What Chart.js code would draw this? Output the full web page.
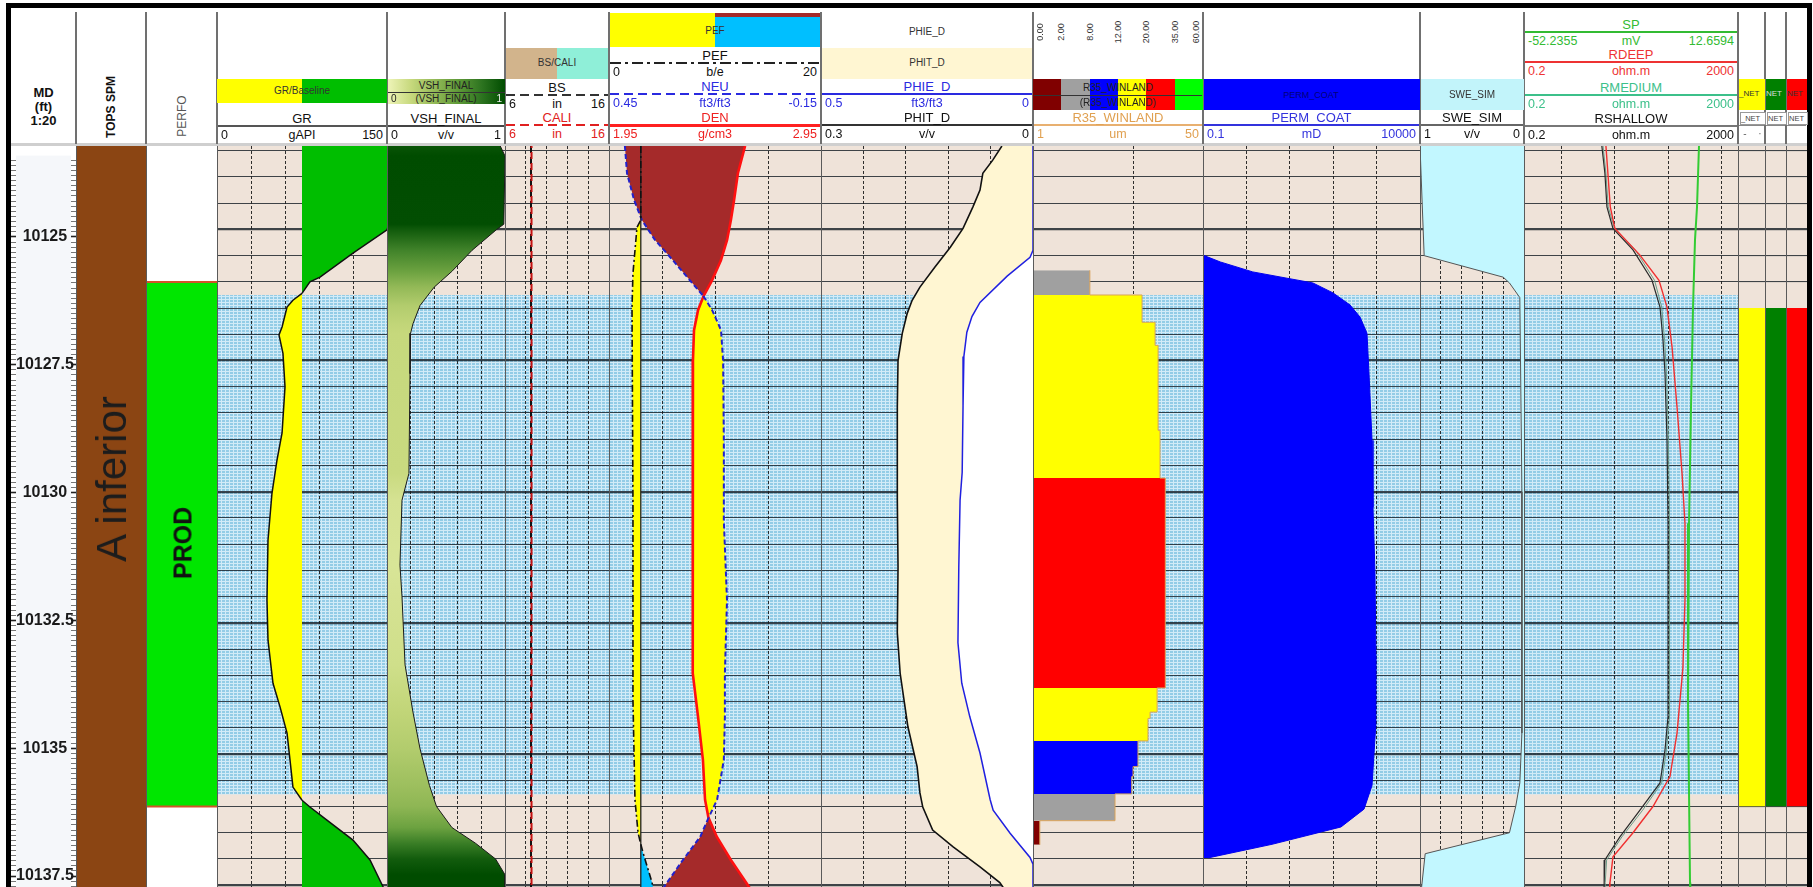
<!DOCTYPE html>
<html>
<head>
<meta charset="utf-8">
<title>Well log - A inferior</title>
<script src="https://cdn.jsdelivr.net/npm/chart.js@4.4.1/dist/chart.umd.min.js"></script>
<style>
  html, body { margin: 0; padding: 0; background: #fff; overflow: hidden; }
  body { position: relative; width: 1813px; height: 887px; font-family: 'Liberation Sans', Arial, sans-serif; }
  canvas { position: absolute; z-index: 1; }
  .b { position: absolute; z-index: 2; }
  .t { position: absolute; z-index: 3; white-space: nowrap; line-height: 1; color: #111; font-size: 12px; }
</style>
</head>
<body>
<script>
// ---------- depth window (ft MD) ----------
const DEPTH_TOP = 10123.41;
const DEPTH_BASE = 10137.82;
const gridDepths = [10123.5, 10124, 10124.5, 10125, 10125.5, 10126, 10126.5, 10127, 10127.5, 10128, 10128.5,
  10129, 10129.5, 10130, 10130.5, 10131, 10131.5, 10132, 10132.5, 10133, 10133.5, 10134, 10134.5, 10135,
  10135.5, 10136, 10136.5, 10137, 10137.5];
const mdLabels = [10125, 10127.5, 10130, 10132.5, 10135, 10137.5];

// ---------- intervals ----------
const zoneTop = 10126.25, zoneBase = 10135.77;
const topsName = ['A inferior'], topsTop = [10100], topsBase = [10160];
const perfoName = ['PROD'], perfoTop = [10126.0], perfoBase = [10136.0];
const netName = ['_NET', 'NET', 'NET'];
const netTop = [10126.5, 10126.5, 10126.5];
const netBase = [10136.0, 10136.0, 10136.0];
const netColor = ['#FFFF00', '#008000', '#FF0000'];

// ---------- curves ----------
const GR_BASELINE = 75;
const grDepth = [10123.41, 10124.6, 10125.01, 10125.45, 10125.91, 10126.0, 10126.22, 10126.35, 10126.48, 10126.86,
  10127.01, 10127.36, 10128.0, 10128.88, 10129.4, 10130.03, 10130.92, 10132.07, 10132.83, 10133.65, 10134.1,
  10134.6, 10135.11, 10135.63, 10135.88, 10136.01, 10136.26, 10136.64, 10137.02, 10137.53, 10137.82];
const grValue = [158, 156, 150, 120, 90.9, 82, 75, 67, 61.8, 57.4, 54.7, 58.2, 60, 57.4, 52.9, 48.5, 45, 44.1, 45,
  49.4, 55.6, 61.8, 64.4, 67, 75, 82, 97, 120, 135, 146.5, 152];

const vshDepth = [10123.41, 10123.6, 10124.9, 10125.0, 10125.4, 10125.8, 10126.1, 10126.45, 10126.8, 10126.98,
  10127.75, 10129.65, 10130.16, 10131.4, 10132.0, 10133.3, 10134.2, 10134.9, 10135.6, 10136.0, 10136.4, 10136.7,
  10137.0, 10137.3, 10137.82];
const vshValue = [0.96, 1.0, 0.99, 0.93, 0.72, 0.55, 0.40, 0.28, 0.22, 0.20, 0.195, 0.186, 0.127, 0.11, 0.127,
  0.153, 0.22, 0.28, 0.36, 0.42, 0.55, 0.75, 0.92, 1.0, 1.0];

const bsDepth = [10123.41, 10137.82], bsValue = [8.5, 8.5];
const caliDepth = [10123.41, 10137.82], caliValue = [8.55, 8.55];

const PEF_CUTOFF = 3;
const pefDepth = [10123.41, 10124.82, 10124.96, 10125.84, 10126.49, 10130.16, 10133.97, 10135.87, 10136.5,
  10136.72, 10136.88, 10137.45, 10137.82];
const pefValue = [3.0, 3.0, 2.64, 2.26, 2.17, 2.26, 2.26, 2.45, 2.74, 3.0, 3.21, 4.06, 4.4];

const ndDepth = [10123.41, 10123.93, 10124.44, 10124.82, 10125.2, 10125.59, 10125.97, 10126.27, 10126.54, 10126.92,
  10127.5, 10129.02, 10130.55, 10132.07, 10133.46, 10134.29, 10135.11, 10135.87, 10136.21, 10136.58, 10137.02,
  10137.53, 10137.82];
const neuValue = [0.405, 0.399, 0.379, 0.357, 0.320, 0.269, 0.221, 0.183, 0.158, 0.133, 0.127, 0.125, 0.125, 0.116,
  0.122, 0.122, 0.125, 0.144, 0.168, 0.192, 0.241, 0.294, 0.32];
const denValue = [2.592, 2.558, 2.540, 2.525, 2.507, 2.478, 2.436, 2.396, 2.370, 2.351, 2.346, 2.346, 2.346, 2.342,
  2.346, 2.370, 2.393, 2.403, 2.419, 2.459, 2.525, 2.610, 2.65];

const phitDepth = [10123.41, 10123.68, 10123.93, 10124.25, 10124.57, 10124.98, 10125.34, 10125.72, 10126.1,
  10126.35, 10126.6, 10126.98, 10127.5, 10128.39, 10130.16, 10131.44, 10132.69, 10133.46, 10134.48, 10135.24,
  10135.74, 10136.01, 10136.45, 10136.77, 10137.15, 10137.45, 10137.82];
const phitValue = [0.044, 0.057, 0.071, 0.075, 0.085, 0.099, 0.117, 0.139, 0.160, 0.171, 0.178, 0.185, 0.191,
  0.192, 0.192, 0.191, 0.192, 0.188, 0.177, 0.164, 0.160, 0.156, 0.142, 0.113, 0.075, 0.047, 0.028];
const phieDepth = [10123.41, 10125.4, 10125.53, 10125.89, 10126.39, 10126.66, 10126.96, 10127.42, 10128.37,
  10129.63, 10130.16, 10131.44, 10132.88, 10133.65, 10134.29, 10134.98, 10135.87, 10136.07, 10136.51, 10136.97,
  10137.1, 10137.82];
const phieValue = [0, 0, 0.007, 0.061, 0.125, 0.144, 0.156, 0.163, 0.165, 0.167, 0.172, 0.175, 0.177, 0.168,
  0.149, 0.125, 0.101, 0.094, 0.054, 0.007, 0, 0];

// R35 Winland pore throat radius, blocky rock-type steps
const r35Top = [10125.78, 10126.25, 10126.77, 10127.21, 10128.83, 10129.74, 10133.74, 10134.20, 10134.32,
  10134.75, 10135.24, 10135.43, 10135.76, 10136.27];
const r35Base = [10126.25, 10126.77, 10127.21, 10128.83, 10129.74, 10133.74, 10134.20, 10134.32, 10134.75,
  10135.24, 10135.43, 10135.76, 10136.27, 10136.73];
const r35Value = [3.7, 12.3, 16.6, 17.8, 18.6, 21.0, 17.4, 14.8, 14.1, 11.2, 10.0, 9.7, 6.6, 1.17];
const r35Class = ['0.00', '2.00', '8.00', '12.00', '20.00', '35.00', '60.00'];
const r35Colors = ['#800000', '#A0A0A0', '#0000FF', '#FFFF00', '#FF0000', '#00FF00'];

const permDepth = [10125.49, 10125.62, 10125.81, 10125.93, 10126.02, 10126.21, 10126.44, 10126.67, 10126.98,
  10127.74, 10129.02, 10130.3, 10131.55, 10133.15, 10134.5, 10135.6, 10136.05, 10136.39, 10136.72, 10136.98];
const permValue = [0.1, 0.25, 1.4, 8.6, 34, 99, 244, 415, 601, 668, 784, 826, 918, 968, 950, 784, 513, 151, 3.9, 0.13];

const sweDepth = [10123.41, 10125.5, 10125.91, 10126.02, 10126.3, 10130.0, 10134.6, 10135.55, 10136.0, 10136.5,
  10136.9, 10137.82];
const sweValue = [1.0, 0.96, 0.20, 0.14, 0.04, 0.02, 0.02, 0.04, 0.08, 0.14, 0.95, 1.0];

const rdeepDepth = [10123.41, 10123.93, 10124.57, 10124.98, 10125.49, 10125.97, 10126.48, 10127.24, 10128.39,
  10129.65, 10130.6, 10132.07, 10133.35, 10134.6, 10135.43, 10136.0, 10136.5, 10136.96, 10137.45, 10137.82];
const rdeepValue = [6.8, 7.4, 8.2, 10.0, 29.4, 66.7, 94.2, 117, 145, 180, 204, 204, 187, 145, 107, 51.5, 21.8,
  9.2, 8.1, 8.0];
const rshalDepth = [10123.41, 10123.93, 10124.57, 10124.98, 10125.39, 10125.97, 10126.48, 10127.11, 10127.74,
  10129.02, 10130.6, 10132.07, 10134.29, 10134.92, 10135.55, 10136.07, 10136.58, 10137.02, 10137.45, 10137.82];
const rshalValue = [5.7, 6.5, 7.1, 9.2, 21.8, 49.4, 69.7, 79.3, 86.4, 94.2, 98.4, 98.4, 98.4, 86.4, 69.7, 29.4,
  12.4, 6.5, 6.3, 6.2];
const rmedValue = [6.0, 6.8, 7.5, 9.8, 24.0, 55.0, 75.0, 85.0, 92.0, 100, 105, 106, 104, 92, 75, 33, 13.5, 7.0,
  6.6, 6.5];
const spDepth = [10123.41, 10124.57, 10125.2, 10126.48, 10128.39, 10130.6, 10134.0, 10137.45, 10137.82];
const spValue = [0.83, 0.23, -0.38, -0.98, -1.59, -2.2, -2.5, -1.89, -1.8];

// ---------- layout ----------
const T = {
  md: [11, 76], tops: [76, 146], perfo: [146, 217], gr: [217, 387], vsh: [387, 505],
  cal: [505, 609], pef: [609, 821], phi: [821, 1033], r35: [1033, 1203], perm: [1203, 1420],
  swe: [1420, 1524], res: [1524, 1738], net1: [1738, 1765], net2: [1765, 1786], net3: [1786, 1807]
};
const PLOT_TOP = 146, PLOT_H = 756;
const BEIGE = '#EFE3D9';
const GR_SAND = '#FFFF00', GR_SHALE = '#00BE00';
const ND_SHALE = '#A52A2A', ND_CROSS = '#FFFF00';
const vshRamp = [[0, [238, 244, 184]], [0.2, [198, 216, 124]], [0.4, [147, 185, 87]], [0.6, [95, 154, 56]],
  [0.8, [45, 116, 32]], [1, [0, 76, 0]]];

Chart.defaults.font.family = "'Liberation Sans', Arial, sans-serif";

function pts(depths, values) { return depths.map((d, i) => ({x: values[i], y: d})); }

function vshColor(v) {
  v = Math.max(0, Math.min(1, v));
  for (let i = 1; i < vshRamp.length; i++) {
    const [p1, c1] = vshRamp[i], [p0, c0] = vshRamp[i - 1];
    if (v <= p1) {
      const f = (v - p0) / (p1 - p0);
      return 'rgb(' + c0.map((c, k) => Math.round(c + (c1[k] - c) * f)).join(',') + ')';
    }
  }
  return 'rgb(0,76,0)';
}

function vshGradient(context) {
  const chart = context.chart;
  const area = chart.chartArea;
  if (!area) return vshColor(0.2);
  const y = chart.scales.y;
  const g = chart.ctx.createLinearGradient(0, area.top, 0, area.bottom);
  vshDepth.forEach((d, i) => {
    const p = (y.getPixelForValue(d) - area.top) / (area.bottom - area.top);
    if (p >= 0 && p <= 1) g.addColorStop(p, vshColor(vshValue[i]));
  });
  return g;
}

function r35Color(v) {
  const lims = r35Class.map(Number);
  for (let i = 1; i < lims.length; i++) if (v < lims[i]) return r35Colors[i - 1];
  return r35Colors[r35Colors.length - 1];
}

// beige background with the patterned reservoir band behind the grid
function zonePattern(ctx) {
  const tile = document.createElement('canvas');
  tile.width = 4; tile.height = 3;
  const g = tile.getContext('2d');
  g.fillStyle = '#93CCE6'; g.fillRect(0, 0, 4, 3);
  g.fillStyle = '#D2EBF7'; g.fillRect(0, 0, 4, 1); g.fillRect(0, 0, 1, 3);
  return ctx.createPattern(tile, 'repeat');
}
const backdrop = {
  id: 'backdrop',
  beforeDraw(chart, args, o) {
    const {ctx, chartArea: a} = chart;
    ctx.save();
    ctx.fillStyle = o.color || BEIGE;
    ctx.fillRect(a.left, a.top, a.width, a.height);
    if (o.zone) {
      const y = chart.scales.y;
      const y0 = y.getPixelForValue(zoneTop), y1 = y.getPixelForValue(zoneBase);
      ctx.fillStyle = zonePattern(ctx);
      ctx.fillRect(a.left, y0, a.width, y1 - y0);
    }
    ctx.restore();
  }
};

function depthAxis(grid) {
  return {
    type: 'linear', min: DEPTH_TOP, max: DEPTH_BASE, reverse: true, display: grid,
    afterBuildTicks: s => { s.ticks = gridDepths.map(v => ({value: v})); },
    ticks: {display: false},
    border: {display: false},
    grid: {drawTicks: false, color: 'rgba(18,26,34,0.8)',
      lineWidth: c => (c.tick && mdLabels.includes(c.tick.value)) ? 2.2 : 1.1}
  };
}

function valueAxis(type, min, max, grid, extra) {
  return Object.assign({
    type, axis: 'x', position: 'bottom', min, max, display: !!grid,
    afterBuildTicks: s => { s.ticks = (grid || []).map(v => ({value: v})); },
    ticks: {display: false},
    border: {display: false, dash: [3, 2]},
    grid: {drawTicks: false, color: 'rgba(25,25,25,0.9)', lineWidth: 1}
  }, extra || {});
}

function curve(xAxisID, depths, values, style) {
  return Object.assign({xAxisID, yAxisID: 'y', data: pts(depths, values), borderColor: '#111',
    borderWidth: 1.5, fill: false, pointRadius: 0}, style);
}

function block(xAxisID, top, base, value, fillTo, color, style) {
  return Object.assign({xAxisID, yAxisID: 'y', data: [{x: value, y: top}, {x: value, y: base}],
    fill: {value: fillTo}, backgroundColor: color, borderWidth: 0, pointRadius: 0}, style);
}

function makeTrack(key, scales, datasets, bg) {
  const [l, r] = T[key];
  const cv = document.createElement('canvas');
  cv.width = r - l; cv.height = PLOT_H;
  cv.style.left = l + 'px'; cv.style.top = PLOT_TOP + 'px';
  document.body.appendChild(cv);
  return new Chart(cv, {
    type: 'line',
    data: {datasets},
    options: {
      indexAxis: 'y', responsive: false, maintainAspectRatio: false, animation: false,
      devicePixelRatio: 1, events: [], layout: {padding: 0},
      elements: {point: {radius: 0}, line: {tension: 0}},
      plugins: {legend: {display: false}, tooltip: {enabled: false},
        filler: {drawTime: 'beforeDatasetsDraw'}, backdrop: bg},
      scales
    },
    plugins: [backdrop]
  });
}

// ---------- depth track ----------
(function () {
  const [l, r] = T.md;
  const cv = document.createElement('canvas');
  cv.width = r - l; cv.height = PLOT_H;
  cv.style.left = l + 'px'; cv.style.top = PLOT_TOP + 'px';
  document.body.appendChild(cv);
  const minor = [];
  for (let k = Math.ceil(DEPTH_TOP * 10); k <= Math.floor(DEPTH_BASE * 10); k++) minor.push(k / 10);
  const side = (position, labels) => ({
    type: 'linear', axis: 'y', position, min: DEPTH_TOP, max: DEPTH_BASE, reverse: true,
    afterBuildTicks: s => { s.ticks = minor.map(v => ({value: v})); },
    ticks: labels ? {mirror: true, padding: 0, autoSkip: false, crossAlign: 'center', color: '#1a1a1a',
      font: {size: 16, weight: 'bold'}, callback: v => mdLabels.includes(v) ? String(v) : ''} : {display: false},
    border: {display: false},
    grid: {drawOnChartArea: false, drawTicks: true, tickLength: 5,
      tickColor: c => (c.tick && mdLabels.includes(c.tick.value)) ? '#222' : '#777',
      tickWidth: c => (c.tick && mdLabels.includes(c.tick.value)) ? 1.6 : 1}
  });
  new Chart(cv, {
    type: 'line', data: {datasets: []},
    options: {responsive: false, animation: false, devicePixelRatio: 1, events: [], layout: {padding: 0},
      plugins: {legend: {display: false}, tooltip: {enabled: false}, backdrop: {color: '#F5F7FA'}},
      scales: {x: {display: false}, y: side('left', true), y2: side('right', false)}},
    plugins: [backdrop]
  });
})();

// ---------- zone tops & perforations ----------
makeTrack('tops', {y: depthAxis(false), x: valueAxis('linear', 0, 1, null)},
  topsName.map((n, i) => block('x', topsTop[i], topsBase[i], 1, 0, '#8B4513')), {color: '#FFFFFF'});

makeTrack('perfo', {y: depthAxis(false), x: valueAxis('linear', 0, 1, null)}, [
  {xAxisID: 'x', data: [{x: 0, y: perfoTop[0]}, {x: 1, y: perfoTop[0]}], borderColor: '#D2542A', borderWidth: 2, pointRadius: 0},
  {xAxisID: 'x', data: [{x: 0, y: perfoBase[0]}, {x: 1, y: perfoBase[0]}], borderColor: '#D2542A', borderWidth: 2, pointRadius: 0},
  block('x', perfoTop[0], perfoBase[0], 1, 0, '#00E600')
], {color: '#FFFFFF'});

// ---------- GR with baseline shading ----------
makeTrack('gr', {y: depthAxis(true), x: valueAxis('linear', 0, 150, [30, 60, 90, 120])}, [
  curve('x', grDepth, grValue, {borderColor: '#111', borderWidth: 1.5, fill: {value: GR_BASELINE},
    backgroundColor: GR_SAND,
    segment: {backgroundColor: s => (s.p0.parsed.x + s.p1.parsed.x) / 2 >= GR_BASELINE ? GR_SHALE : GR_SAND}})
], {zone: true});

// ---------- VSH coloured by value ----------
makeTrack('vsh', {y: depthAxis(true), x: valueAxis('linear', 0, 1, [0.2, 0.4, 0.6, 0.8])}, [
  curve('x', vshDepth, vshValue, {borderColor: '#1a1a1a', borderWidth: 1, fill: {value: 0}, backgroundColor: vshGradient})
], {zone: true});

// ---------- BS / CALI ----------
makeTrack('cal', {y: depthAxis(true), x: valueAxis('linear', 6, 16, [8, 10, 12, 14])}, [
  curve('x', caliDepth, caliValue, {borderColor: '#C41010', borderWidth: 2, borderDash: [7, 4], borderDashOffset: 5}),
  curve('x', bsDepth, bsValue, {borderColor: '#111', borderWidth: 2, borderDash: [7, 4]})
], {zone: true});

// ---------- PEF / NEU / DEN ----------
makeTrack('pef', {
  y: depthAxis(true),
  xNeu: valueAxis('linear', -0.15, 0.45, [0, 0.15, 0.3], {reverse: true}),
  xDen: valueAxis('linear', 1.95, 2.95, null),
  xPef: valueAxis('linear', 0, 20, null)
}, [
  curve('xPef', pefDepth, pefValue, {borderColor: '#111', borderWidth: 1.6, borderDash: [7, 3, 2, 3],
    fill: {value: PEF_CUTOFF}, backgroundColor: '#FFFF00',
    segment: {backgroundColor: s => (s.p0.parsed.x + s.p1.parsed.x) / 2 <= PEF_CUTOFF ? '#FFFF00' : '#00BFFF'}}),
  curve('xPef', [DEPTH_TOP, DEPTH_BASE], [PEF_CUTOFF, PEF_CUTOFF], {borderColor: '#222', borderWidth: 1.3}),
  curve('xNeu', ndDepth, neuValue, {borderColor: '#2222CC', borderWidth: 2, borderDash: [5, 3],
    fill: 3, backgroundColor: ND_SHALE,
    segment: {backgroundColor: s => {
      const den = s.chart.getDatasetMeta(3).data;
      const a = den[s.p0DataIndex], b = den[s.p1DataIndex];
      if (!a || !b) return ND_SHALE;
      return (s.p0.x + s.p1.x) <= (a.x + b.x) ? ND_SHALE : ND_CROSS;
    }}}),
  curve('xDen', ndDepth, denValue, {borderColor: '#FF1010', borderWidth: 2.6})
], {zone: true});

// ---------- porosity ----------
makeTrack('phi', {
  y: depthAxis(true),
  xPhie: valueAxis('linear', 0, 0.5, [0.1, 0.2, 0.3, 0.4], {reverse: true}),
  xPhit: valueAxis('linear', 0, 0.3, null, {reverse: true})
}, [
  curve('xPhie', phieDepth, phieValue, {borderColor: '#2020E0', borderWidth: 1.5, fill: {value: 0}, backgroundColor: '#FFFFFF'}),
  curve('xPhit', phitDepth, phitValue, {borderColor: '#111', borderWidth: 1.6, fill: {value: 0}, backgroundColor: '#FFF6D2'})
], {zone: true});

// ---------- R35 rock types (stepped, each step takes the value at its base) ----------
const r35Steps = [{x: r35Value[0], y: r35Top[0]}].concat(r35Value.map((v, i) => ({x: v, y: r35Base[i]})));
makeTrack('r35', {y: depthAxis(true), x: valueAxis('logarithmic', 1, 50, [10])}, [
  {xAxisID: 'x', yAxisID: 'y', data: r35Steps, stepped: true, fill: {value: 1}, pointRadius: 0,
    borderColor: '#D9A35A', borderWidth: 1, backgroundColor: r35Color(r35Value[0]),
    segment: {backgroundColor: s => r35Color(s.p1.parsed.x)}}
], {zone: true});

// ---------- permeability ----------
makeTrack('perm', {y: depthAxis(true), x: valueAxis('logarithmic', 0.1, 10000, [1, 10, 100, 1000])}, [
  curve('x', permDepth, permValue, {borderColor: '#0000F0', borderWidth: 1, fill: {value: 0.1}, backgroundColor: '#0000FF'})
], {zone: true});

// ---------- water saturation ----------
makeTrack('swe', {y: depthAxis(true), x: valueAxis('linear', 0, 1, [0.2, 0.4, 0.6, 0.8], {reverse: true})}, [
  curve('x', sweDepth, sweValue, {borderColor: '#555', borderWidth: 1, fill: {value: 0}, backgroundColor: '#C2F7FF'})
], {zone: true});

// ---------- resistivity & SP ----------
makeTrack('res', {
  y: depthAxis(true),
  x: valueAxis('logarithmic', 0.2, 2000, [1, 10, 100, 1000]),
  xSp: valueAxis('linear', -52.2355, 12.6594, null)
}, [
  curve('xSp', spDepth, spValue, {borderColor: '#33CC33', borderWidth: 2}),
  curve('x', rdeepDepth, rdeepValue, {borderColor: '#F03030', borderWidth: 1.4}),
  curve('x', rshalDepth, rshalValue, {borderColor: '#2a2a2a', borderWidth: 1.2}),
  curve('x', rshalDepth, rmedValue, {borderColor: '#6C9C88', borderWidth: 1})
], {zone: true});

// ---------- net flags ----------
['net1', 'net2', 'net3'].forEach((k, i) => {
  makeTrack(k, {y: depthAxis(true), x: valueAxis('linear', 0, 1, null)},
    [block('x', netTop[i], netBase[i], 1, 0, netColor[i])], {zone: false});
});

// ---------- header (html text) ----------
function box(x, y, w, h, css) {
  const d = document.createElement('div');
  d.className = 'b';
  Object.assign(d.style, {left: x + 'px', top: y + 'px', width: w + 'px', height: h + 'px'}, css || {});
  document.body.appendChild(d);
  return d;
}
function label(x, y, text, css, anchor) {
  const d = document.createElement('div');
  d.className = 't';
  d.textContent = text;
  Object.assign(d.style, {left: x + 'px', top: y + 'px'}, css || {});
  const tx = anchor === 'l' ? '0' : anchor === 'r' ? '-100%' : '-50%';
  d.style.transform = 'translate(' + tx + ',-50%)' + (css && css.rot ? ' rotate(-90deg)' : '');
  document.body.appendChild(d);
  return d;
}
const solid = (c, w) => ({background: c, height: (w || 2) + 'px'});
const dashed = c => ({background: 'repeating-linear-gradient(90deg,' + c + ' 0 9px,transparent 9px 14px)'});
const dashdot = c => ({background: 'repeating-linear-gradient(90deg,' + c + ' 0 11px,transparent 11px 15px,' +
  c + ' 15px 18px,transparent 18px 22px)'});

function curveHeader(key, lineY, name, lo, unit, hi, color, lineCss) {
  const [l, r] = T[key];
  const cx = (l + r) / 2;
  label(cx, lineY - 8, name, {color, fontSize: '13px'});
  box(l + 1, lineY - 1, r - l - 2, 2, lineCss);
  label(l + 4, lineY + 9, lo, {color, fontSize: '12.5px'}, 'l');
  label(cx, lineY + 9, unit, {color, fontSize: '12.5px'});
  label(r - 4, lineY + 9, hi, {color, fontSize: '12.5px'}, 'r');
}

// frame
box(6, 3, 1806, 5, {background: '#000'});
box(6, 3, 5, 884, {background: '#000'});
box(1807, 3, 5, 884, {background: '#000'});
box(11, 143, 1796, 3, {background: '#CFCFCF'});
// track dividers
[76, 146, 217, 387, 505, 609, 821, 1033, 1203, 1420, 1524, 1738, 1765, 1786].forEach(x => {
  box(x - 1, 12, 2, 132, {background: '#707070'});
  box(x, 146, 1, 741, {background: '#5a5a5a'});
});

// depth / tops / perfo titles
label(43.5, 92, 'MD', {fontSize: '13px', fontWeight: 'bold'});
label(43.5, 106, '(ft)', {fontSize: '13px', fontWeight: 'bold'});
label(43.5, 120, '1:20', {fontSize: '13px', fontWeight: 'bold'});
label(111, 107, 'TOPS SPM', {fontSize: '12px', fontWeight: 'bold', rot: 1});
label(182, 116, 'PERFO', {fontSize: '12px', color: '#555', rot: 1});
label(112, 479, topsName[0], {fontSize: '42px', color: '#1c1c1c', rot: 1});
label(183, 543, perfoName[0], {fontSize: '25px', fontWeight: 'bold', color: '#111', rot: 1});

// GR
box(217, 79, 85, 24, {background: GR_SAND});
box(302, 79, 85, 24, {background: GR_SHALE});
label(302, 91, 'GR/Baseline', {fontSize: '10px', color: '#333'});
curveHeader('gr', 126, 'GR', '0', 'gAPI', '150', '#111', solid('#555'));

// VSH
const vshCss = 'linear-gradient(90deg,' + vshRamp.map(([p, c]) => 'rgb(' + c.join(',') + ') ' + (p * 100) + '%').join(',') + ')';
box(388, 79, 117, 13, {background: vshCss});
box(388, 93, 117, 11, {background: vshCss});
box(388, 92, 117, 1, {background: '#333'});
label(446, 86, 'VSH_FINAL', {fontSize: '10px', color: '#222'});
label(391, 98.5, '0', {fontSize: '10px', color: '#222'}, 'l');
label(446, 98.5, '(VSH_FINAL)', {fontSize: '10px', color: '#222'});
label(502, 98.5, '1', {fontSize: '10px', color: '#eee'}, 'r');
curveHeader('vsh', 126, 'VSH_FINAL', '0', 'v/v', '1', '#111', solid('#444'));

// BS / CALI
box(506, 48, 51, 31, {background: '#D2B48C'});
box(557, 48, 51, 31, {background: '#8FEFD8'});
label(557, 63, 'BS/CALI', {fontSize: '10px', color: '#333'});
curveHeader('cal', 95, 'BS', '6', 'in', '16', '#111', dashed('#333'));
curveHeader('cal', 125, 'CALI', '6', 'in', '16', '#E02020', dashed('#E02020'));

// PEF / NEU / DEN
box(610, 13, 105, 34, {background: '#FFFF00'});
box(715, 13, 105, 34, {background: '#00BFFF'});
box(715, 13, 105, 4, {background: ND_SHALE});
label(715, 31, 'PEF', {fontSize: '10px', color: '#333'});
curveHeader('pef', 63, 'PEF', '0', 'b/e', '20', '#111', dashdot('#222'));
curveHeader('pef', 94, 'NEU', '0.45', 'ft3/ft3', '-0.15', '#2a2ae0', dashed('#2a2ae0'));
curveHeader('pef', 125, 'DEN', '1.95', 'g/cm3', '2.95', '#EE2020', solid('#FF2020', 3));

// porosity
label(927, 32, 'PHIE_D', {fontSize: '10px', color: '#333'});
box(822, 48, 210, 31, {background: '#FFF6D2'});
label(927, 63, 'PHIT_D', {fontSize: '10px', color: '#333'});
curveHeader('phi', 94, 'PHIE_D', '0.5', 'ft3/ft3', '0', '#2a2ae0', solid('#2a2ae0'));
curveHeader('phi', 125, 'PHIT_D', '0.3', 'v/v', '0', '#111', solid('#333'));

// R35 classes
r35Colors.forEach((c, i) => box(1033 + i * 170 / 6, 79, 170 / 6, 31, {background: c}));
box(1034, 95, 168, 1, {background: '#333'});
label(1118, 88, 'R35_WINLAND', {fontSize: '10px', color: '#222'});
label(1118, 103, '(R35_WINLAND)', {fontSize: '10px', color: '#222'});
r35Class.forEach((s, i) => {
  const x = Math.max(1040, Math.min(1196, 1033 + i * 170 / 6));
  label(x, 32, s, {fontSize: '9px', color: '#333', rot: 1});
});
curveHeader('r35', 125, 'R35_WINLAND', '1', 'um', '50', '#E0A050', solid('#E8B070'));

// permeability
box(1204, 79, 216, 31, {background: '#0000FF'});
label(1311, 95, 'PERM_COAT', {fontSize: '9px', color: '#00007A'});
curveHeader('perm', 125, 'PERM_COAT', '0.1', 'mD', '10000', '#3333DD', solid('#3333DD'));

// saturation
box(1421, 79, 103, 31, {background: '#C2F4FA'});
label(1472, 95, 'SWE_SIM', {fontSize: '10px', color: '#333'});
curveHeader('swe', 125, 'SWE_SIM', '1', 'v/v', '0', '#111', solid('#666'));

// resistivity
curveHeader('res', 32, 'SP', '-52.2355', 'mV', '12.6594', '#33BB33', solid('#33BB33'));
curveHeader('res', 62, 'RDEEP', '0.2', 'ohm.m', '2000', '#EE3333', solid('#EE3333'));
curveHeader('res', 95, 'RMEDIUM', '0.2', 'ohm.m', '2000', '#3CC08A', solid('#3CC08A'));
curveHeader('res', 126, 'RSHALLOW', '0.2', 'ohm.m', '2000', '#111', solid('#777'));

// net flags
['net1', 'net2', 'net3'].forEach((k, i) => {
  const [l, r] = T[k];
  const bar = box(l + 1, 79, r - l - 1, 31, {background: netColor[i], overflow: 'hidden'});
  const t1 = document.createElement('div');
  t1.className = 't'; t1.textContent = netName[i];
  Object.assign(t1.style, {left: '0px', top: '11px', fontSize: '8px', color: i === 1 ? '#ddd' : '#333'});
  bar.appendChild(t1);
  const cell = box(l + 2, 112, r - l - 3, 11, {border: '1px solid #999', overflow: 'hidden', background: '#fff'});
  const t2 = document.createElement('div');
  t2.className = 't'; t2.textContent = netName[i];
  Object.assign(t2.style, {left: '0px', top: '2px', fontSize: '7.5px', color: '#444'});
  cell.appendChild(t2);
  box(l + 1, 125, r - l - 2, 1, {background: '#888'});
});
label(1745, 134, '-', {fontSize: '10px', color: '#666'});
label(1760, 134, '\u00b7', {fontSize: '10px', color: '#666'});
</script>
</body>
</html>
